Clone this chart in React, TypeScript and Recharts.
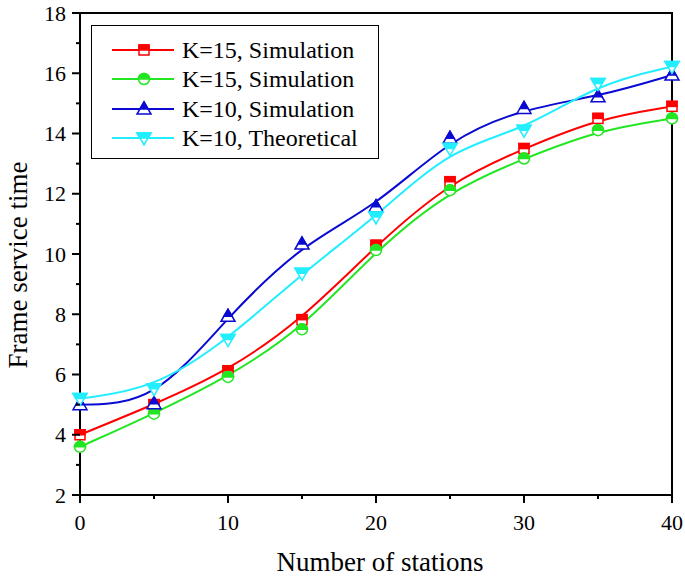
import React from 'react';
import { LineChart, Line, XAxis, YAxis, ReferenceArea } from 'recharts';

const stations = [0, 5, 10, 15, 20, 25, 30, 35, 40];
const k15SimA = [4.0, 5.0, 6.12, 7.82, 10.29, 12.4, 13.5, 14.5, 14.9];
const k15SimB = [3.6, 4.7, 5.92, 7.5, 10.13, 12.12, 13.17, 14.11, 14.5];
const k10Sim = [5.0, 5.03, 7.93, 10.33, 11.57, 13.84, 14.83, 15.22, 15.94];
const k10Theo = [5.2, 5.53, 7.16, 9.36, 11.23, 13.5, 14.11, 15.66, 16.22];

const xTicks = [0, 5, 10, 15, 20, 25, 30, 35, 40];
const yTicks = [2, 3, 4, 5, 6, 7, 8, 9, 10, 11, 12, 13, 14, 15, 16, 17, 18];

const seriesNames = ['K=15, Simulation', 'K=15, Simulation', 'K=10, Simulation', 'K=10, Theoretical'];
const colors = ['#ff0000', '#22e622', '#0a0ad2', '#22eeff'];
const shapes = ['square', 'circle', 'up', 'down'];

const data = stations.map((s, i) => ({
  x: s,
  a: k15SimA[i],
  b: k15SimB[i],
  c: k10Sim[i],
  d: k10Theo[i],
}));

const FONT = '"Liberation Serif", "Times New Roman", serif';

function Marker({ cx, cy, shape, color }: { cx: number; cy: number; shape: string; color: string }) {
  const sw = 1.5;
  if (shape === 'square') {
    const h = 5;
    return (
      <g>
        <rect x={cx - h} y={cy - h} width={2 * h} height={2 * h} fill="#fff" stroke={color} strokeWidth={sw} />
        <rect x={cx - h} y={cy - h} width={2 * h} height={h} fill={color} stroke={color} strokeWidth={sw} />
      </g>
    );
  }
  if (shape === 'circle') {
    const r = 5.5;
    return (
      <g>
        <circle cx={cx} cy={cy} r={r} fill="#fff" stroke={color} strokeWidth={sw} />
        <path d={`M${cx - r},${cy} A${r},${r} 0 0 1 ${cx + r},${cy} Z`} fill={color} stroke={color} strokeWidth={sw} />
      </g>
    );
  }
  if (shape === 'up') {
    const h1 = 7, h2 = 5, w = 7;
    const hw = (w * h1) / (h1 + h2);
    return (
      <g>
        <polygon points={`${cx},${cy - h1} ${cx + w},${cy + h2} ${cx - w},${cy + h2}`} fill="#fff" stroke={color} strokeWidth={sw} />
        <polygon points={`${cx},${cy - h1} ${cx + hw},${cy} ${cx - hw},${cy}`} fill={color} stroke={color} strokeWidth={sw} />
      </g>
    );
  }
  const h1 = 5, h2 = 7, w = 7;
  const hw = (w * h2) / (h1 + h2);
  return (
    <g>
      <polygon points={`${cx - w},${cy - h1} ${cx + w},${cy - h1} ${cx},${cy + h2}`} fill="#fff" stroke={color} strokeWidth={sw} />
      <polygon points={`${cx - w},${cy - h1} ${cx + w},${cy - h1} ${cx + hw},${cy} ${cx - hw},${cy}`} fill={color} stroke={color} strokeWidth={sw} />
    </g>
  );
}

const makeDot = (shape: string, color: string) => (props: any) => {
  const { cx, cy, index } = props;
  if (cx == null || cy == null) return <g key={`${shape}-${index}`} />;
  return (
    <g key={`${shape}-${index}`}>
      <Marker cx={cx} cy={cy} shape={shape} color={color} />
    </g>
  );
};

const XTick = (props: any) => {
  const { x, y, payload } = props;
  const major = payload.value % 10 === 0;
  return (
    <g>
      <line x1={x} x2={x} y1={y} y2={y + (major ? 8 : 4)} stroke="#000" strokeWidth={2} />
      {major && (
        <text x={x} y={y + 35} textAnchor="middle" style={{ fontFamily: FONT, fontSize: 22 }} fill="#000">
          {payload.value}
        </text>
      )}
    </g>
  );
};

const YTick = (props: any) => {
  const { x, y, payload } = props;
  const major = payload.value % 2 === 0;
  return (
    <g>
      <line x1={x} x2={x - (major ? 8 : 4)} y1={y} y2={y} stroke="#000" strokeWidth={2} />
      {major && (
        <text x={x - 14} y={y} dy="0.35em" textAnchor="end" style={{ fontFamily: FONT, fontSize: 22 }} fill="#000">
          {payload.value}
        </text>
      )}
    </g>
  );
};

const LegendBox = () => (
  <div
    style={{
      position: 'absolute',
      left: 91,
      top: 25,
      border: '1.5px solid #000',
      width: 288,
      height: 134,
      boxSizing: 'border-box',
      background: '#fff',
      paddingTop: 9,
    }}
  >
    {seriesNames.map((n, i) => (
      <div key={i} style={{ display: 'flex', alignItems: 'center', height: 29.5 }}>
        <svg width={90} height={24} style={{ display: 'block' }}>
          <line x1={20} x2={82} y1={12} y2={12} stroke={colors[i]} strokeWidth={2} />
          <Marker cx={52} cy={12} shape={shapes[i]} color={colors[i]} />
        </svg>
        <span style={{ fontFamily: FONT, fontSize: 24, color: '#000', lineHeight: '24px' }}>{n}</span>
      </div>
    ))}
  </div>
);

const keys = ['a', 'b', 'c', 'd'];

export default function App() {
  return (
    <div style={{ position: 'absolute', left: 0, top: 0, width: 685, height: 579, background: '#fff' }}>
      <LineChart width={685} height={579} data={data} margin={{ top: 13, right: 13, left: 0, bottom: 0 }}>
        <XAxis
          dataKey="x"
          type="number"
          domain={[0, 40]}
          ticks={xTicks}
          tick={<XTick />}
          tickLine={false}
          tickSize={0}
          tickMargin={0}
          height={84}
          axisLine={{ stroke: '#000', strokeWidth: 2 }}
          interval={0}
          label={{
            content: (p: any) => {
              const vb = p.viewBox;
              return (
                <text x={vb.x + vb.width / 2 + 4} y={vb.y + vb.height - 8} textAnchor="middle" style={{ fontFamily: FONT, fontSize: 27 }} fill="#000">
                  Number of stations
                </text>
              );
            },
          }}
        />
        <YAxis
          type="number"
          domain={[2, 18]}
          ticks={yTicks}
          tick={<YTick />}
          tickLine={false}
          tickSize={0}
          tickMargin={0}
          width={80}
          axisLine={{ stroke: '#000', strokeWidth: 2 }}
          interval={0}
          label={{
            content: (p: any) => {
              const vb = p.viewBox;
              const cy = vb.y + vb.height / 2 + 11;
              return (
                <text x={27} y={cy} transform={`rotate(-90 27 ${cy})`} textAnchor="middle" style={{ fontFamily: FONT, fontSize: 27 }} fill="#000">
                  Frame service time
                </text>
              );
            },
          }}
        />
        <ReferenceArea x1={0} x2={40} y1={2} y2={18} fill="none" stroke="#000" strokeWidth={2} ifOverflow="visible" />
        {keys.map((k, i) => (
          <Line
            key={k}
            dataKey={k}
            name={seriesNames[i]}
            type="basis"
            stroke={colors[i]}
            strokeWidth={2}
            dot={makeDot(shapes[i], colors[i])}
            activeDot={false}
            isAnimationActive={false}
          />
        ))}
      </LineChart>
      <LegendBox />
    </div>
  );
}
